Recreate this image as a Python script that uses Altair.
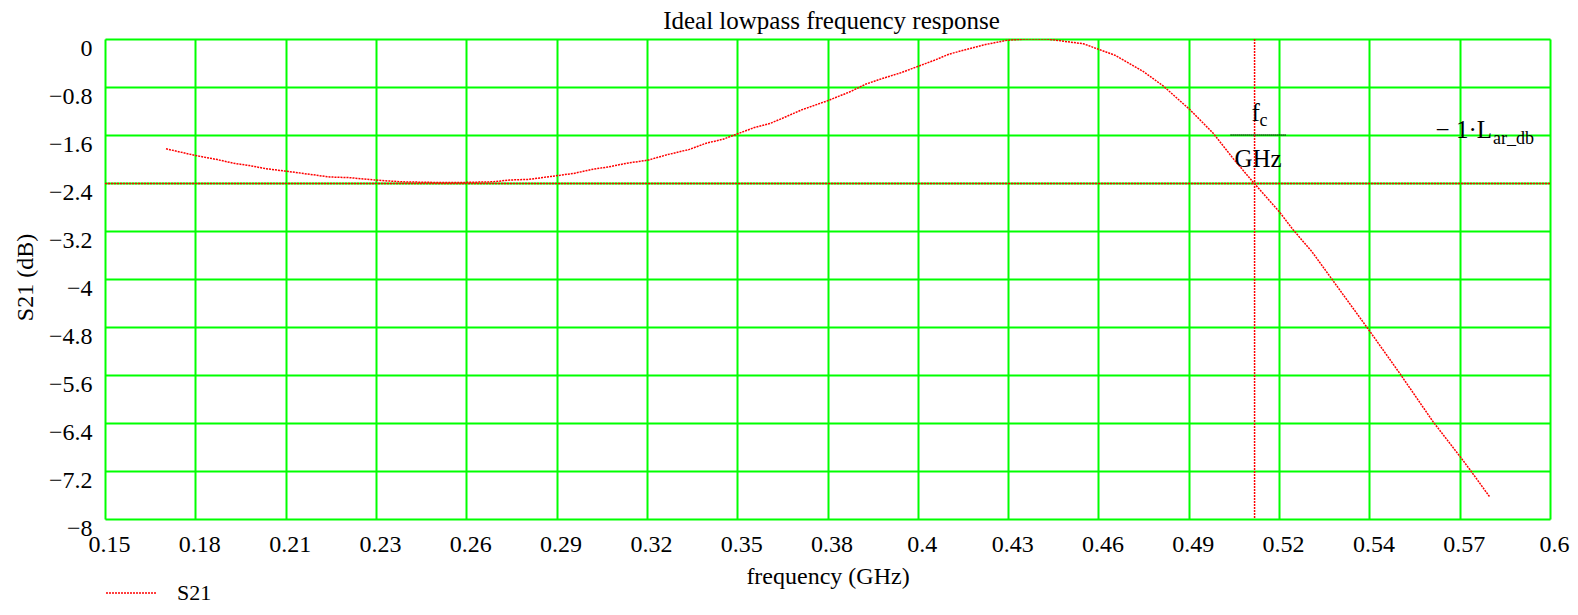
import altair as alt
import pandas as pd

# ---------------- data ----------------
title_text = "Ideal lowpass frequency response"
series_name = "S21"

freq_ghz = [0.169, 0.178, 0.185, 0.190, 0.195, 0.200, 0.206, 0.213, 0.220, 0.226,
            0.234, 0.242, 0.252, 0.262, 0.271, 0.276, 0.282, 0.289, 0.296, 0.302,
            0.307, 0.3125, 0.319, 0.325, 0.332, 0.337, 0.3425, 0.347, 0.352, 0.357,
            0.361, 0.367, 0.375, 0.382, 0.387, 0.392, 0.398, 0.403, 0.408, 0.413,
            0.4235, 0.431, 0.437, 0.4433, 0.4547, 0.4645, 0.4733, 0.4795, 0.4879, 0.4951,
            0.5013, 0.5076, 0.516, 0.520, 0.5258, 0.5315, 0.544, 0.5533, 0.5636, 0.572,
            0.5751, 0.5812]
s21_db = [-1.83, -1.94, -2.01, -2.07, -2.11, -2.16, -2.20, -2.25, -2.30, -2.31,
          -2.35, -2.38, -2.39, -2.39, -2.38, -2.35, -2.34, -2.29, -2.24, -2.17,
          -2.13, -2.07, -2.02, -1.93, -1.84, -1.74, -1.67, -1.58, -1.48, -1.41,
          -1.32, -1.18, -1.03, -0.88, -0.75, -0.66, -0.56, -0.46, -0.36, -0.25,
          -0.10, -0.02, 0.0, 0.0, -0.08, -0.27, -0.54, -0.78, -1.18, -1.57,
          -1.99, -2.39, -2.90, -3.18, -3.54, -3.96, -4.88, -5.58, -6.38, -6.96,
          -7.18, -7.63]

fc_ghz = 0.508          # vertical marker (fc / GHz)
lar_db = 2.41           # horizontal marker at -1*L_ar_db

x_tick_labels = ["0.15", "0.18", "0.21", "0.23", "0.26", "0.29", "0.32", "0.35", "0.38",
                 "0.4", "0.43", "0.46", "0.49", "0.52", "0.54", "0.57", "0.6"]
y_tick_values = [0, -0.8, -1.6, -2.4, -3.2, -4, -4.8, -5.6, -6.4, -7.2, -8]
y_tick_labels = ["0", "\u22120.8", "\u22121.6", "\u22122.4", "\u22123.2", "\u22124",
                 "\u22124.8", "\u22125.6", "\u22126.4", "\u22127.2", "\u22128"]

x_min, x_max = 0.15, 0.6
y_min, y_max = -8, 0
marker_label_y = -1.6   # grid level where the marker labels sit

# ---------------- build ----------------
FONT = "Liberation Serif, Times New Roman, serif"
FS = 24
RED = "#ff0000"
GREEN = "#00ff00"

df = pd.DataFrame({"freq": freq_ghz, "s21": s21_db, "series": series_name})
one = pd.DataFrame({"k": [0]})   # single row for markers / labels

x_step = (x_max - x_min) / (len(x_tick_labels) - 1)
x_ticks = [x_min + i * x_step for i in range(len(x_tick_labels))]
x_label_expr = "[" + ",".join(repr(s) for s in x_tick_labels) + \
    f"][round((datum.value-({x_min}))/{x_step})]"
y_label_expr = "[" + ",".join(repr(s) for s in y_tick_labels) + \
    "][round(-datum.value/0.8)]"

x_scale = alt.Scale(domain=[x_min, x_max], nice=False, zero=False)
y_scale = alt.Scale(domain=[y_min, y_max], nice=False, zero=False)

x_axis = alt.Axis(values=x_ticks, labelExpr=x_label_expr, title="frequency (GHz)",
                  grid=True, gridColor=GREEN, gridWidth=2, gridOpacity=1,
                  ticks=False, domain=False, labelFlush=False, labelOverlap=False,
                  labelFont=FONT, labelFontSize=FS, labelColor="#000",
                  labelBaseline="top", labelPadding=13, labelOffset=4,
                  titleFont=FONT, titleFontSize=FS, titleFontWeight="normal",
                  titleColor="#000", titleBaseline="alphabetic", titleY=64)
y_axis = alt.Axis(values=y_tick_values, labelExpr=y_label_expr, title="S21 (dB)",
                  grid=True, gridColor=GREEN, gridWidth=2, gridOpacity=1,
                  ticks=False, domain=False, labelFlush=False, labelOverlap=False,
                  labelFont=FONT, labelFontSize=FS, labelColor="#000",
                  labelBaseline="top", labelAlign="right", labelPadding=13, labelOffset=-3,
                  titleFont=FONT, titleFontSize=FS, titleFontWeight="normal",
                  titleColor="#000", titleAngle=270, titleBaseline="middle",
                  titleAlign="center", titleX=-80, titleY=238)

legend = alt.Legend(title=None, orient="none", legendX=0, legendY=528,
                    symbolType="stroke", symbolSize=2500, symbolStrokeWidth=1.5,
                    symbolDash=[2, 1], labelFont=FONT, labelFontSize=22,
                    labelColor="#000", labelOffset=20, padding=0)

curve = alt.Chart(df).mark_line(strokeWidth=1.5, strokeDash=[2, 1], clip=True).encode(
    x=alt.X("freq:Q", scale=x_scale, axis=x_axis),
    y=alt.Y("s21:Q", scale=y_scale, axis=y_axis),
    color=alt.Color("series:N", scale=alt.Scale(domain=[series_name], range=[RED]),
                    legend=legend),
)

vline = alt.Chart(one).mark_rule(color=RED, strokeWidth=1.5, strokeDash=[2, 1]).encode(
    x=alt.datum(fc_ghz))
hline = alt.Chart(one).mark_rule(color=RED, strokeWidth=1.5, strokeDash=[2, 1]).encode(
    y=alt.datum(-lar_db))

frac_bar = alt.Chart(one).mark_rule(color="#000", strokeWidth=1.5, strokeDash=[1, 1],
                                     xOffset=-24, x2Offset=31).encode(
    x=alt.datum(fc_ghz), x2=alt.datum(fc_ghz), y=alt.datum(marker_label_y))

def label(text, xval, dx, dy, size=25, align="center"):
    return alt.Chart(one).mark_text(text=text, font=FONT, fontSize=size, color="#000",
                                    dx=dx, dy=dy, align=align, baseline="alphabetic").encode(
        x=alt.datum(xval), y=alt.datum(marker_label_y))

fc_f = label("f", fc_ghz, 1, -14)
fc_c = label("c", fc_ghz, 9, -9, size=18)
fc_ghz_txt = label("GHz", fc_ghz, 3.5, 32)
lar_main = label("\u2212 1\u00b7L", x_max, -58, 3, align="right")
lar_sub = label("ar_db", x_max, -57, 9, size=18, align="left")

chart = alt.layer(curve, vline, hline, frac_bar, fc_f, fc_c, fc_ghz_txt, lar_main, lar_sub).properties(
    width=1445, height=480,
    title=alt.TitleParams(title_text, font=FONT, fontSize=25, fontWeight="normal",
                          color="#000", anchor="middle", frame="group", offset=10,
                          dx=4, dy=8),
    autosize=alt.AutoSizeParams(type="none"),
    padding={"left": 97, "top": 31, "right": 20, "bottom": 88},
).configure_view(stroke="#000", strokeWidth=2).configure(background="white")

chart.save("out.html", embed_options={"renderer": "svg", "actions": False})
